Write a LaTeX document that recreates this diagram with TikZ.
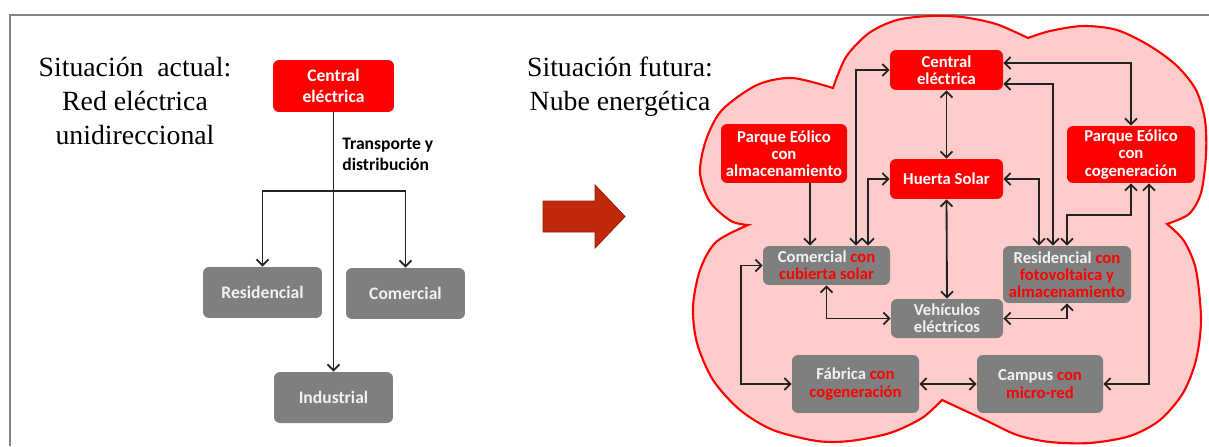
\documentclass[tikz,border=0pt]{standalone}
\usepackage{fontspec}
\setmainfont{Liberation Serif}
\setsansfont{Carlito}
\usetikzlibrary{arrows.meta}
\definecolor{rojo}{HTML}{FF0000}
\definecolor{gris}{HTML}{7F7F7F}
\definecolor{nube}{HTML}{FFCCCC}
\definecolor{flecha}{HTML}{C0290A}
\definecolor{flechaborde}{HTML}{9A1E05}
\definecolor{marco}{HTML}{858585}
\definecolor{claro}{HTML}{F2F2F2}
\definecolor{negro}{HTML}{222222}

\tikzset{
  caja/.style={rounded corners=0.12cm, align=center, inner sep=1pt},
  cajaroja/.style={caja, fill=rojo, text=white},
  cajagris/.style={caja, fill=gris, text=claro},
  chica/.style={font=\sffamily\bfseries\fontsize{9.5}{9.8}\selectfont},
  grande/.style={font=\sffamily\bfseries\fontsize{10}{12}\selectfont},
  titulo/.style={align=center, font=\fontsize{15.8}{19.3}\selectfont},
  linea/.style={draw=negro, line width=1.05pt},
}

\begin{document}
\begin{tikzpicture}[x=0.02cm, y=-0.02cm, >={Straight Barb[length=1.2mm,width=2.4mm]}]
	\useasboundingbox (0,0) rectangle (1209,446);
	% marco
	\draw[marco, line width=1.3pt] (10,446) -- (10,15) -- (1209,15);
	% nube
	\draw[rojo, fill=nube, line width=1.2pt]
	plot[smooth] coordinates {(748,225) (731,221) (710,202) (700,173) (706,140) (722,110) (757,85) (792,78) (833,88)}
	-- plot[smooth] coordinates {(833,88) (846,57) (869,33) (897,20) (930,16) (962,17) (996,24) (1028,38)}
	-- plot[smooth] coordinates {(1028,38) (1050,31) (1083,26) (1117,30) (1150,46) (1177,66) (1196,90) (1205,120) (1206,155) (1201,193) (1189,214) (1167,224)}
	-- plot[smooth] coordinates {(1167,224) (1184,241) (1196,270) (1201,320) (1196,360) (1183,393) (1160,420) (1130,436) (1090,443) (1050,442) (1017,435) (983,419) (942,400)}
	-- plot[smooth] coordinates {(942,400) (922,418) (890,433) (850,441) (817,441) (773,430) (740,410) (713,380) (697,343) (693,307) (700,270) (716,242) (748,225)}
	-- cycle;
	% flecha grande
	\draw[flechaborde, fill=flecha, line width=0.5pt] (543,201) -- (595,201) -- (595,185) -- (625,216.5)
	-- (595,248) -- (595,232) -- (543,232) -- cycle;

	% situacion actual
	\node[titulo] (tit1) at (135,101) {Situación\ \ actual:\\Red eléctrica\\unidireccional};
	\node[cajaroja, grande, minimum width=2.42cm, minimum height=1.04cm] (cen1) at (333.5,86) {Central\\eléctrica};
	\node[cajagris, grande, minimum width=2.38cm, minimum height=1.02cm] (res1) at (262.5,292.5) {Residencial};
	\node[cajagris, grande, minimum width=2.38cm, minimum height=1.02cm] (com1) at (405.5,293.5) {Comercial};
	\node[cajagris, grande, minimum width=2.38cm, minimum height=1.02cm] (ind1) at (333.5,397.5) {Industrial};
	\node[grande, align=left, anchor=west, inner sep=0pt] (tyd) at (342,154) {Transporte y\\distribución};
	\coordinate (rama) at (333.5,191);
	\draw[linea,->] (cen1.south) -- (ind1.north);
	\draw[linea,->] (rama) -| (res1.north);
	\draw[linea,->] (rama) -| (com1.north);

	% situacion futura
	\node[titulo] (tit2) at (620,87) {Situación futura:\\Nube energética};
	\node[cajaroja, chica, minimum width=2.26cm, minimum height=0.8cm] (cen2) at (946.5,70) {Central\\eléctrica};
	\node[cajaroja, chica, minimum width=2.26cm, minimum height=0.8cm] (hue) at (946.5,179) {Huerta Solar};
	\node[cajaroja, chica, minimum width=2.52cm, minimum height=1.18cm] (pea) at (784,153.5) {Parque Eólico\\con\\almacenamiento};
	\node[cajaroja, chica, minimum width=2.56cm, minimum height=1.14cm] (pec) at (1131,154.5) {Parque Eólico\\con\\cogeneración};
	\node[cajagris, chica, minimum width=2.54cm, minimum height=0.78cm] (com2) at (826.5,265.5)
	{Comercial \textcolor{rojo}{con}\\\textcolor{rojo}{cubierta solar}};
	\node[cajagris, chica, minimum width=2.56cm, minimum height=1.14cm] (res2) at (1067,274.5)
	{Residencial \textcolor{rojo}{con}\\\textcolor{rojo}{fotovoltaica y}\\\textcolor{rojo}{almacenamiento}};
	\node[cajagris, chica, minimum width=2.24cm, minimum height=0.78cm] (veh) at (947,318.5) {Vehículos\\eléctricos};
	\node[cajagris, chica, minimum width=2.54cm, minimum height=1.16cm] (fab) at (855.5,384)
	{Fábrica \textcolor{rojo}{con}\\\textcolor{rojo}{cogeneración}};
	\node[cajagris, chica, minimum width=2.52cm, minimum height=1.16cm] (cam) at (1040,384)
	{Campus \textcolor{rojo}{con}\\\textcolor{rojo}{micro-red}};

	% conexiones
	\draw[linea,<->] (cen2.south) -- (hue.north);
	\draw[linea,<->] (hue.south) -- (veh.north);
	\draw[linea,<->] ([xshift=0.59cm]com2.north) |- (cen2.west);
	\draw[linea,<->] ([xshift=0.83cm]com2.north) |- (hue.west);
	\draw[linea,->] ([xshift=0.52cm]pea.south) -- ([xshift=0.52cm]pea.south |- com2.north);
	\draw[linea,<->] ([yshift=0.14cm]cen2.east) -| (pec.north);
	\draw[linea,<->] ([yshift=-0.28cm]cen2.east) -| ([xshift=-0.28cm]res2.north);
	\draw[linea,<->] (hue.east) -| ([xshift=-0.56cm]res2.north);
	\draw[linea,<->] (res2.north) -- ++(0,-31) -| (pec.south);
	\draw[linea,<->] ([xshift=0.36cm]pec.south) |- (cam.east);
	\draw[linea,<->] (com2.south) |- (veh.west);
	\draw[linea,<->] (veh.east) -| (res2.south);
	\draw[linea,<->] (com2.west) -- ++(-22,0) |- (fab.west);
	\draw[linea,<->] (fab.east) -- (cam.west);
\end{tikzpicture}
\end{document}
